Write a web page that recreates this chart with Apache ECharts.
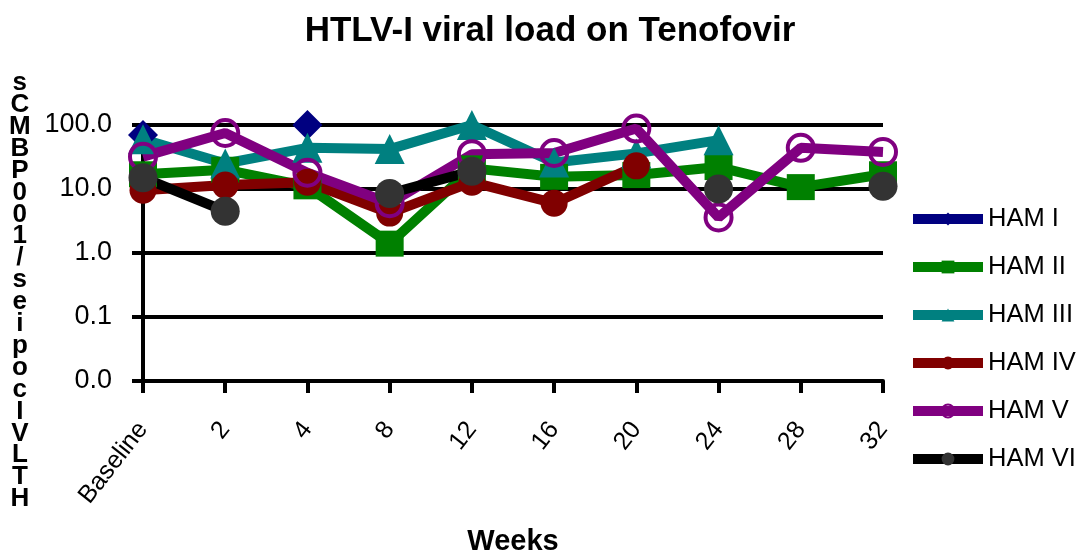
<!DOCTYPE html>
<html>
<head>
<meta charset="utf-8">
<script src="https://cdn.jsdelivr.net/npm/echarts@6/dist/echarts.min.js"></script>
<style>
html,body{margin:0;padding:0;background:#fff;}
#chart{width:1082px;height:553px;}
</style>
</head>
<body>
<div id="chart"></div>
<script>
const categories = ['Baseline','2','4','8','12','16','20','24','28','32'];
const hamI   = [70, null, 100, null, null, null, null, null, null, null];
const hamII  = [17, 20, 11, 1.4, 21, 15.5, 16.5, 22, 10.7, 17];
const hamIII = [60, 25, 44, 42, 100, 26, 36, 58, null, null];
const hamIV  = [9.6, 11.5, 12.8, 4.2, 12.8, 6.0, 23, null, null, null];
const hamV   = [32, 75, 18, 6, 35, 36.5, 88, 3.6, 44, 38];
const hamVI  = [15, 4.5, null, 8.5, 19, null, null, 10, null, 11];
const seriesNames = ['HAM I','HAM II','HAM III','HAM IV','HAM V','HAM VI'];
const yTitleText = 'HTLVIcopies/100PBMCs';
const titleText = 'HTLV-I viral load on Tenofovir';
const xTitleText = 'Weeks';

const chart = echarts.init(document.getElementById('chart'));
const lineW = 10;
function mk(name, data, lineColor, symbol, size, fill, border, bw) {
  return {
    name: name, type: 'line', data: data, connectNulls: false,
    symbol: symbol, symbolSize: size, showAllSymbol: true,
    lineStyle: {color: lineColor, width: lineW},
    itemStyle: {color: fill, borderColor: border || fill, borderWidth: bw || 0},
    emphasis: {disabled: true}, animation: false
  };
}
const series = [
  mk(seriesNames[0], hamI, '#000080', 'diamond', 30, '#000080'),
  mk(seriesNames[1], hamII, '#008000', 'rect', [28, 26], '#008000'),
  mk(seriesNames[2], hamIII, '#008080', 'triangle', 30, '#008080'),
  mk(seriesNames[3], hamIV, '#800000', 'circle', 27, '#800000'),
  mk(seriesNames[4], hamV, '#800080', 'circle', 26, 'rgba(255,255,255,0)', '#800080', 4),
  mk(seriesNames[5], hamVI, '#000000', 'circle', 29, '#333333')
];
const yChars = yTitleText.split('').reverse().join('\n');
const fam = '"Liberation Sans", Arial, sans-serif';

chart.setOption({
  animation: false,
  backgroundColor: '#ffffff',
  title: {
    text: titleText, left: 545, top: 9, textAlign: 'center',
    textStyle: {fontFamily: fam, fontWeight: 'bold', fontSize: 35, color: '#000'}
  },
  grid: {left: 143, right: 199, top: 125, bottom: 172, containLabel: false, outerBoundsMode: 'none'},
  legend: {
    orient: 'vertical', left: 903, top: 201, itemWidth: 70, itemHeight: 16, itemGap: 22,
    lineStyle: {width: 10},
    textStyle: {fontFamily: fam, fontSize: 25.5, color: '#000'},
    data: seriesNames
  },
  xAxis: {
    type: 'category', data: categories, boundaryGap: false,
    axisLine: {lineStyle: {color: '#000', width: 4}},
    axisTick: {show: true, length: 12, lineStyle: {color: '#000', width: 4}, alignWithLabel: true},
    axisLabel: {rotate: 52, fontFamily: fam, fontSize: 25, color: '#000', margin: 44, interval: 0},
    name: xTitleText, nameLocation: 'middle', nameGap: 146,
    nameTextStyle: {fontFamily: fam, fontWeight: 'bold', fontSize: 29, color: '#000'}
  },
  yAxis: {
    type: 'log', logBase: 10, min: 0.01, max: 100,
    axisLine: {show: true, lineStyle: {color: '#000', width: 4}},
    axisTick: {show: true, length: 11, lineStyle: {color: '#000', width: 4}},
    splitLine: {show: true, lineStyle: {color: '#000', width: 4}},
    axisLabel: {
      fontFamily: fam, fontSize: 27, color: '#000', margin: 31,
      formatter: function (v) { return Number(v).toFixed(1); }
    }
  },
  graphic: [{
    type: 'text', left: 9, top: 70,
    style: {text: yChars, font: 'bold 26px "Liberation Sans", Arial', fill: '#000', lineHeight: 21.9, textAlign: 'center'}
  }],
  series: series
});
</script>
</body>
</html>
